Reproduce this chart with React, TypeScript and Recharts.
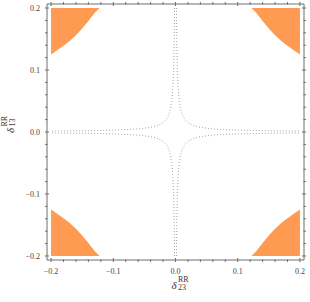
import { Area, ComposedChart, Label, Line, XAxis, YAxis } from "recharts";

// axis range and tick positions
const domain: [number, number] = [-0.2065, 0.2065];
const majorTicks = [-0.2, -0.1, 0, 0.1, 0.2];
const allTicks = [
  -0.2, -0.18, -0.16, -0.14, -0.12, -0.1, -0.08, -0.06, -0.04, -0.02, 0, 0.02,
  0.04, 0.06, 0.08, 0.1, 0.12, 0.14, 0.16, 0.18, 0.2,
];

// orange corner regions: |x| along the edge and the matching |y| of the curved boundary
const cornerX = [0.2, 0.19, 0.18, 0.17, 0.16, 0.15, 0.14, 0.13, 0.122];
const cornerEdge = [0.125, 0.132, 0.139, 0.147, 0.156, 0.167, 0.179, 0.192, 0.2];

// dotted cross (one quadrant)
const branchX = [
  0.0015, 0.002, 0.003, 0.004, 0.006, 0.008, 0.01, 0.013, 0.017, 0.022, 0.03,
  0.04, 0.06, 0.08, 0.12, 0.16, 0.2,
];
const branchY = [
  0.2, 0.15, 0.1, 0.075, 0.05, 0.0375, 0.03, 0.023, 0.0176, 0.0136, 0.01,
  0.0075, 0.005, 0.0038, 0.0025, 0.0019, 0.0015,
];

const ORANGE = "#ff9a52";
const FRAME = "#6e6e6e";
const FONT = "Liberation Serif";

const corner = (sx: number, sy: number) =>
  cornerX.map((x, i) => ({
    x: sx * x,
    r: sy > 0 ? [cornerEdge[i], 0.2] : [-0.2, -cornerEdge[i]],
  }));

const branch = (sx: number, sy: number) =>
  branchX.map((x, i) => ({ x: sx * x, y: sy * branchY[i] }));

const corners = [corner(-1, 1), corner(1, 1), corner(-1, -1), corner(1, -1)];
const branches = [branch(1, 1), branch(-1, 1), branch(-1, -1), branch(1, -1)];

const isMajor = (v: number) => majorTicks.some((m) => Math.abs(m - v) < 1e-9);
const fmt = (v: number) => (v < 0 ? "\u2212" : "") + Math.abs(v).toFixed(1);

function BottomTick({ x, y, payload }: any) {
  const major = isMajor(payload.value);
  return (
    <g>
      <line x1={x} x2={x} y1={y} y2={y - (major ? 4 : 2.5)} stroke={FRAME} />
      {major && (
        <text x={x} y={y + 12} textAnchor="middle" fontSize={8} fontFamily={FONT} fill="#444">
          {fmt(payload.value)}
        </text>
      )}
    </g>
  );
}

function TopTick({ x, y, payload }: any) {
  const major = isMajor(payload.value);
  return <line x1={x} x2={x} y1={y} y2={y + (major ? 4 : 2.5)} stroke={FRAME} />;
}

function LeftTick({ x, y, payload }: any) {
  const major = isMajor(payload.value);
  return (
    <g>
      <line x1={x} x2={x + (major ? 4 : 2.5)} y1={y} y2={y} stroke={FRAME} />
      {major && (
        <text x={x - 5} y={y + 3} textAnchor="end" fontSize={8} fontFamily={FONT} fill="#444">
          {fmt(payload.value)}
        </text>
      )}
    </g>
  );
}

function RightTick({ x, y, payload }: any) {
  const major = isMajor(payload.value);
  return <line x1={x} x2={x - (major ? 4 : 2.5)} y1={y} y2={y} stroke={FRAME} />;
}

function Delta({ x, y, sub, rotate }: { x: number; y: number; sub: string; rotate?: boolean }) {
  return (
    <g transform={`translate(${x},${y})${rotate ? " rotate(-90)" : ""}`} fontFamily={FONT} fill="#333">
      <text x={0} y={0} fontSize={11} fontStyle="italic">
        δ
      </text>
      <text x={6.5} y={-7} fontSize={8}>
        RR
      </text>
      <text x={6.5} y={1} fontSize={8}>
        {sub}
      </text>
    </g>
  );
}

export default function App() {
  return (
    <div style={{ position: "absolute", left: 0, top: 0 }}>
      <ComposedChart width={310} height={302} margin={{ top: 3, right: 5, bottom: 0, left: 0 }}>
        <XAxis
          type="number"
          dataKey="x"
          domain={domain}
          allowDataOverflow
          ticks={allTicks}
          interval={0}
          tickSize={0}
          tickLine={false}
          tick={<BottomTick />}
          height={42}
          stroke={FRAME}
        >
          <Label
            content={({ viewBox }: any) => (
              <Delta x={viewBox.x + viewBox.width / 2 - 4} y={289} sub="23" />
            )}
          />
        </XAxis>
        <XAxis
          xAxisId="top"
          orientation="top"
          type="number"
          dataKey="x"
          domain={domain}
          allowDataOverflow
          ticks={allTicks}
          interval={0}
          tickSize={0}
          tickLine={false}
          tick={<TopTick />}
          height={1}
          stroke={FRAME}
        />
        <YAxis
          type="number"
          domain={domain}
          allowDataOverflow
          ticks={allTicks}
          interval={0}
          tickSize={0}
          tickLine={false}
          tick={<LeftTick />}
          width={47}
          stroke={FRAME}
        >
          <Label content={() => <Delta x={14} y={133} sub="13" rotate />} />
        </YAxis>
        <YAxis
          yAxisId="right"
          orientation="right"
          type="number"
          domain={domain}
          allowDataOverflow
          ticks={allTicks}
          interval={0}
          tickSize={0}
          tickLine={false}
          tick={<RightTick />}
          width={1}
          stroke={FRAME}
        />
        {corners.map((d, i) => (
          <Area
            key={`c${i}`}
            data={d}
            dataKey="r"
            type="linear"
            stroke="none"
            fill={ORANGE}
            fillOpacity={1}
            isAnimationActive={false}
          />
        ))}
        {branches.map((d, i) => (
          <Line
            key={`b${i}`}
            data={d}
            dataKey="y"
            type="linear"
            stroke="#a6a6a6"
            strokeWidth={1}
            strokeDasharray="1 2"
            dot={false}
            isAnimationActive={false}
          />
        ))}
        {/* invisible copy that keeps the top and right frame axes alive */}
        <Line
          xAxisId="top"
          yAxisId="right"
          data={branches[0]}
          dataKey="y"
          stroke="none"
          dot={false}
          legendType="none"
          isAnimationActive={false}
        />
      </ComposedChart>
    </div>
  );
}
